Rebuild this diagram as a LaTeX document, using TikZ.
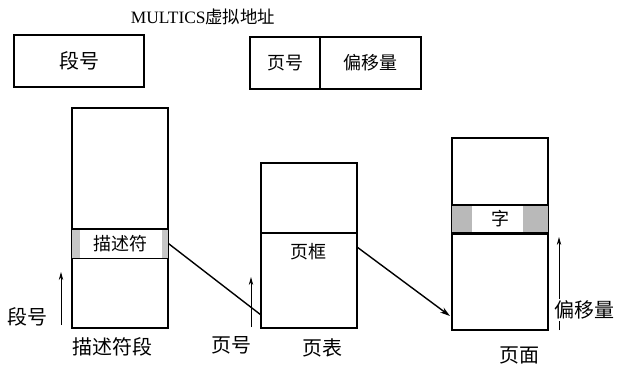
\documentclass[tikz,border=0pt]{standalone}
\usepackage{fontspec}
\setmainfont{Liberation Serif}
\newfontfamily\cjk{Noto Sans CJK SC}
\usetikzlibrary{arrows.meta}

\begin{document}
\begin{tikzpicture}[x=0.5pt, y=-0.5pt,
  box/.style={draw, line width=0.6pt, inner sep=0pt, font=\cjk\fontsize{9}{9}\selectfont},
  lbl/.style={inner sep=1pt, font=\cjk\fontsize{10}{10}\selectfont},
  band/.style={line width=1.1pt},
  shade/.style={fill=gray!45},
  ptr/.style={line width=0.7pt, -{Stealth[length=5pt,width=3pt]}},
  idx/.style={line width=0.4pt, -{Stealth[length=4pt,width=2.2pt]}}]
\useasboundingbox (0,0) rectangle (624,366);

% Virtual address
\node (title) at (203,17) {\fontsize{8.7}{8.7}\selectfont MULTICS{\cjk 虚拟地址}};
\node [box, minimum width=65pt, minimum height=26pt,
       font=\cjk\fontsize{10}{10}\selectfont] (segno) at (79,61) {段号};
\node [box, minimum width=85.5pt, minimum height=26pt] (vaddr) at (335.5,63) {};
\coordinate (split) at (320,63);
\draw [line width=0.6pt] (split |- vaddr.north) -- (split |- vaddr.south);
\node [lbl, font=\cjk\fontsize{9}{9}\selectfont] (pageno) at (285,63) {页号};
\node [lbl, font=\cjk\fontsize{9}{9}\selectfont] (offset) at (370.5,63) {偏移量};

% Descriptor segment
\node [box, minimum width=48pt, minimum height=110pt] (dseg) at (120,218) {};
\node [inner sep=0pt, minimum width=48pt, minimum height=14.5pt,
       font=\cjk\fontsize{9}{9}\selectfont] (desc) at (120,243.5) {描述符};
\fill [shade] (desc.north west) rectangle ([xshift=4pt]desc.south west);
\fill [shade] (desc.north east) rectangle ([xshift=-3pt]desc.south east);
\draw [band] (desc.north west) -- (desc.north east);
\draw [line width=0.8pt] (desc.south west) -- (desc.south east);
\draw [line width=0.6pt] (dseg.north west) rectangle (dseg.south east);

% Page table
\node [box, minimum width=48pt, minimum height=82.5pt] (ptab) at (309,245.5) {};
\coordinate (frame) at (261,233);
\draw [band] (frame) -- (frame -| ptab.east);
\node [lbl, font=\cjk\fontsize{9}{9}\selectfont] (pframe) at (308,252) {页框};

% Page
\node [box, minimum width=48pt, minimum height=96pt] (page) at (500,234) {};
\node [inner sep=0pt, minimum width=48pt, minimum height=14pt,
       font=\cjk\fontsize{9}{9}\selectfont] (word) at (500,219) {字};
\fill [shade, fill=gray!55] (word.north west) rectangle ([xshift=10pt]word.south west);
\fill [shade, fill=gray!55] (word.north east) rectangle ([xshift=-12.5pt]word.south east);
\draw [band] (word.north west) -- (word.north east);
\draw [band] (word.south west) -- (word.south east);
\draw [line width=0.6pt] (page.north west) rectangle (page.south east);

% Pointers
\coordinate (ptin) at (261,315);
\coordinate (ptout) at (357,247);
\coordinate (pgin) at (450,316);
\draw [line width=0.7pt] (desc.east) -- (ptin);
\draw [ptr] (ptout) -- (pgin);

% Index arrows and labels
\coordinate (s0) at (61,325);
\coordinate (s1) at (61,272);
\draw [idx] (s0) -- (s1);
\coordinate (p0) at (251,327);
\coordinate (p1) at (251,277);
\draw [idx] (p0) -- (p1);
\coordinate (o0) at (559,330);
\coordinate (o1) at (559,237);
\draw [idx] (o0) -- (o1);

\node [lbl] (lsegno) at (27,317) {段号};
\node [lbl] (ldseg) at (112,347) {描述符段};
\node [lbl] (lpageno) at (231,345) {页号};
\node [lbl] (lptab) at (322,348) {页表};
\node [lbl] (lpage) at (519,355) {页面};
\node [lbl, fill=white, anchor=west] (loffset) at (552,310) {偏移量};
\end{tikzpicture}
\end{document}
